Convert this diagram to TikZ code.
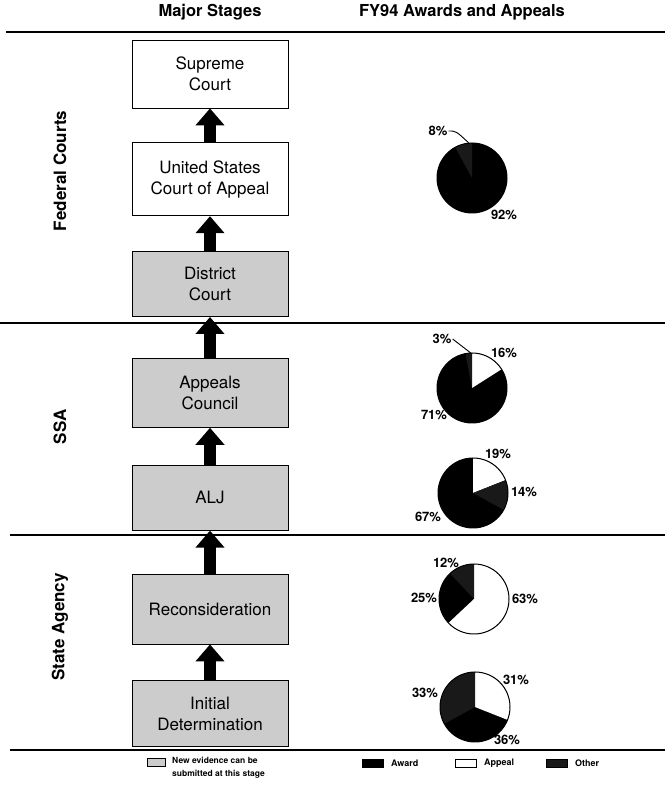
\documentclass[tikz,border=0pt]{standalone}
\usepackage{fontspec}
\setmainfont{TeX Gyre Heros}
\usetikzlibrary{positioning, arrows.meta, calc}
\definecolor{stipple}{gray}{0.80}
\definecolor{otherfill}{gray}{0.10}

\begin{document}
\begin{tikzpicture}[x=1pt, y=1pt,
  stage/.style={draw, line width=0.8pt, minimum width=156pt, align=center, font=\fontsize{17}{21}\selectfont},
  newev/.style={stage, fill=stipple},
  up/.style={line width=12pt, -{Triangle[width=28pt, length=17pt]}},
  rule/.style={line width=1.1pt},
  head/.style={font=\fontsize{16.5}{19}\selectfont\bfseries},
  side/.style={font=\fontsize{17}{19}\selectfont\bfseries, rotate=90},
  pct/.style={font=\fontsize{13}{15}\selectfont\bfseries, inner sep=1pt},
  award/.style={fill=black},
  appeal/.style={fill=white},
  other/.style={fill=otherfill},
  rim/.style={draw, line width=1pt},
  key/.style={draw, line width=0.7pt, minimum width=21pt, minimum height=8pt, inner sep=0pt},
  keytext/.style={font=\fontsize{8.5}{13}\selectfont\bfseries, align=left, inner sep=0pt}]
\useasboundingbox (0,0) rectangle (665,786);

% headings and rules
\node[head] (hstage) at (210,774) {Major Stages};
\node[head] (hfy) at (462,774) {FY94 Awards and Appeals};
\draw[rule] (6,754) -- (665,754);
\draw[rule] (0,463) -- (665,463);
\draw[rule] (10,251) -- (665,251);
\draw[rule] (10,36) -- (665,36);

\node[side] (fed) at (60,615) {Federal Courts};
\node[side] (ssa) at (60,359) {SSA};
\node[side] (state) at (60,159) {State Agency};

% stages
\node[stage, minimum height=68pt] (sup) at (210,712) {Supreme\\Court};
\node[stage, minimum height=73pt, below=34pt of sup] (coa) {United States\\Court of Appeal};
\node[newev, minimum height=65pt, below=35pt of coa] (dist) {District\\Court};
\node[newev, minimum height=69pt, below=41pt of dist] (ac) {Appeals\\Council};
\node[newev, minimum height=65pt, below=37pt of ac] (alj) {ALJ};
\node[newev, minimum height=70pt, below=43pt of alj] (rec) {Reconsideration};
\node[newev, minimum height=66pt, below=36pt of rec] (init) {Initial\\Determination};

\draw[up] (coa.north) -- (sup.south);
\draw[up] (dist.north) -- (coa.south);
\draw[up] (ac.north) -- (dist.south);
\draw[up] (alj.north) -- (ac.south);
\draw[up] (rec.north) -- (alj.south);
\draw[up] (init.north) -- (rec.south);

% pies
\coordinate (p1) at (472,608);
\fill[award] (p1) circle[radius=35];
\fill[other] (p1) -- ++(90:35) arc[start angle=90, end angle=118.8, radius=35] -- cycle;
\draw[rim] (p1) circle[radius=35];
\coordinate (p1t) at ($(p1)+(95:35)$);
\node[pct] (l8) at (438,655) {8\%};
\node[pct] (l92) at (504,571) {92\%};
\draw[line width=0.9pt] (l8.east) .. controls (456,655) .. (p1t);

\coordinate (p2) at (472,398);
\fill[award] (p2) circle[radius=35];
\fill[appeal] (p2) -- ++(90:35) arc[start angle=90, end angle=32.4, radius=35] -- cycle;
\fill[other] (p2) -- ++(90:35) arc[start angle=90, end angle=100.8, radius=35] -- cycle;
\draw[rim] (p2) circle[radius=35];
\coordinate (p2t) at ($(p2)+(92:35)$);
\node[pct] (l3) at (442,447) {3\%};
\node[pct] (l16) at (504,433) {16\%};
\node[pct] (l71) at (434,371) {71\%};
\draw[line width=0.9pt] (l3.east) -- (p2t);

\coordinate (p3) at (473,293);
\fill[award] (p3) circle[radius=35];
\fill[appeal] (p3) -- ++(90:35) arc[start angle=90, end angle=21.6, radius=35] -- cycle;
\fill[other] (p3) -- ++(21.6:35) arc[start angle=21.6, end angle=-28.8, radius=35] -- cycle;
\draw[rim] (p3) circle[radius=35];
\node[pct] (l19) at (498,332) {19\%};
\node[pct] (l14) at (524,294) {14\%};
\node[pct] (l67) at (428,269) {67\%};

\coordinate (p4) at (474,187);
\fill[award] (p4) circle[radius=35];
\fill[appeal] (p4) -- ++(90:35) arc[start angle=90, end angle=-136.8, radius=35] -- cycle;
\fill[other] (p4) -- ++(133.2:35) arc[start angle=133.2, end angle=90, radius=35] -- cycle;
\draw[rim] (p4) circle[radius=35];
\node[pct] (l12) at (446,223) {12\%};
\node[pct] (l25) at (424,188) {25\%};
\node[pct] (l63) at (525,187) {63\%};

\coordinate (p5) at (475,79);
\fill[award] (p5) circle[radius=35];
\fill[appeal] (p5) -- ++(90:35) arc[start angle=90, end angle=-21.6, radius=35] -- cycle;
\fill[other] (p5) -- ++(-151.2:35) arc[start angle=-151.2, end angle=-270, radius=35] -- cycle;
\draw[rim] (p5) circle[radius=35];
\node[pct] (l31) at (516,106) {31\%};
\node[pct] (l33) at (425,93) {33\%};
\node[pct] (l36) at (507,46) {36\%};

% legend
\node[key, fill=stipple, minimum width=18pt] (kev) at (156,24) {};
\node[keytext, anchor=north west] (tev) at (172,29) {New evidence can be\\submitted at this stage};
\node[key, award] (kaw) at (373,23) {};
\node[keytext, font=\fontsize{9}{13}\selectfont\bfseries, right=7pt of kaw] (taw) {Award};
\node[key, appeal] (kap) at (466,23) {};
\node[keytext, font=\fontsize{9}{13}\selectfont\bfseries, right=7pt of kap] (tap) {Appeal};
\node[key, other] (kot) at (557,23) {};
\node[keytext, font=\fontsize{9}{13}\selectfont\bfseries, right=7pt of kot] (tot) {Other};
\end{tikzpicture}
\end{document}
